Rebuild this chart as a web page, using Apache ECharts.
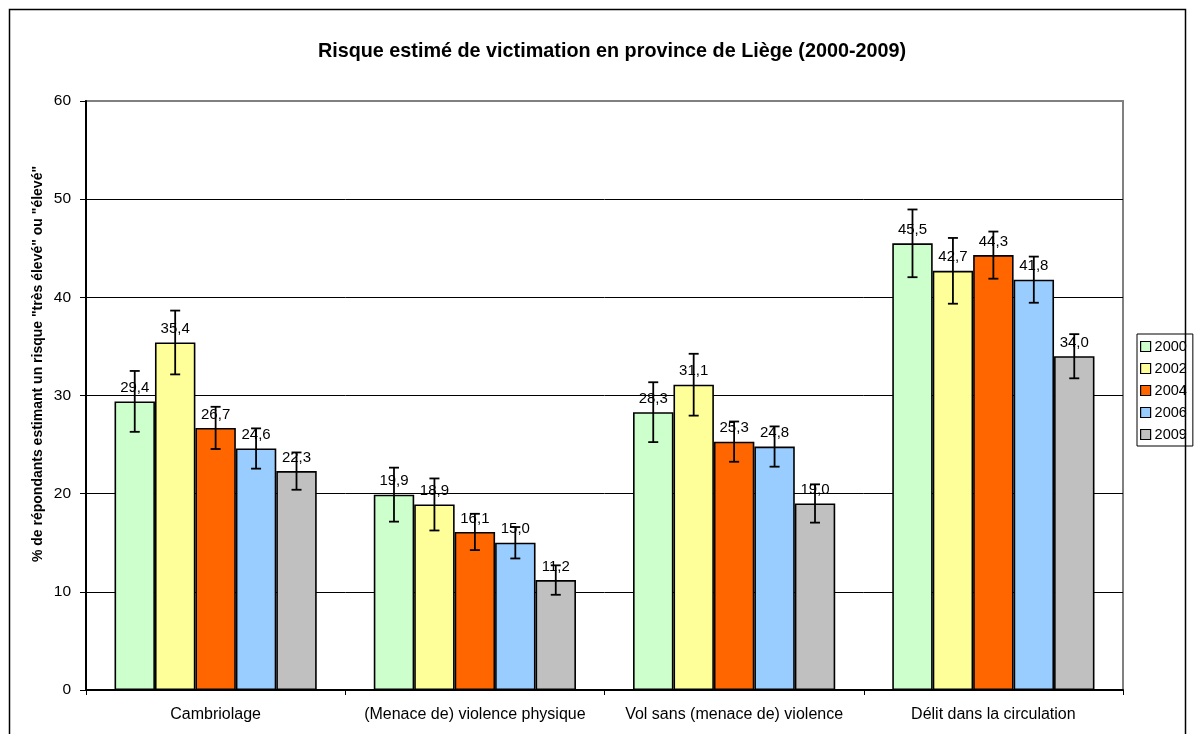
<!DOCTYPE html>
<html>
<head>
<meta charset="utf-8">
<script src="https://cdn.jsdelivr.net/npm/echarts@6/dist/echarts.min.js"></script>
<style>
  html, body { margin: 0; padding: 0; background: #fff; }
  #main { width: 1194px; height: 734px; }
</style>
</head>
<body>
<div id="main"></div>
<script>
var categories = ['Cambriolage', '(Menace de) violence physique', 'Vol sans (menace de) violence', 'Délit dans la circulation'];
var years = ['2000', '2002', '2004', '2006', '2009'];

// pourcentages
var v2000 = [29.4, 19.9, 28.3, 45.5];
var v2002 = [35.4, 18.9, 31.1, 42.7];
var v2004 = [26.7, 16.1, 25.3, 44.3];
var v2006 = [24.6, 15.0, 24.8, 41.8];
var v2009 = [22.3, 11.2, 19.0, 34.0];

// marges d'erreur (+/-)
var e2000 = [3.1, 2.75, 3.05, 3.45];
var e2002 = [3.25, 2.65, 3.15, 3.35];
var e2004 = [2.15, 1.85, 2.05, 2.4];
var e2006 = [2.05, 1.6, 2.05, 2.35];
var e2009 = [1.9, 1.5, 1.95, 2.25];

var yTicks = [0, 10, 20, 30, 40, 50, 60];

var values = [v2000, v2002, v2004, v2006, v2009];
var errors = [e2000, e2002, e2004, e2006, e2009];
var colors = ['#CCFFCC', '#FFFF99', '#FF6600', '#99CCFF', '#C0C0C0'];

var myChart = echarts.init(document.getElementById('main'));
var font = '"Liberation Sans", Arial, sans-serif';

function errRender(si) {
    return function (params, api) {
        var c = api.value(0), v = api.value(1), e = api.value(2);
        var catW = api.size([1, 0])[0];
        var bw = catW * 0.78 / 5;
        var x = api.coord([c, v])[0] + (si - 2) * bw;
        var top = api.coord([c, v + e])[1];
        var bot = api.coord([c, v - e])[1];
        var cap = 5;
        var st = { stroke: '#000', lineWidth: 1.8 };
        return {
            type: 'group',
            children: [
                { type: 'line', shape: { x1: x, y1: top, x2: x, y2: bot }, style: st },
                { type: 'line', shape: { x1: x - cap, y1: top, x2: x + cap, y2: top }, style: st },
                { type: 'line', shape: { x1: x - cap, y1: bot, x2: x + cap, y2: bot }, style: st }
            ]
        };
    };
}

var series = [];
years.forEach(function (y, i) {
    series.push({
        name: y,
        type: 'bar',
        data: values[i],
        barGap: '0%',
        barCategoryGap: '22%',
        itemStyle: { color: colors[i], borderColor: '#000', borderWidth: 1.6 },
        label: {
            show: true,
            position: 'top',
            distance: 6,
            color: '#000',
            fontFamily: font,
            fontSize: 15,
            formatter: function (p) { return p.value.toFixed(1).replace('.', ','); }
        },
        z: 2
    });
});
years.forEach(function (y, i) {
    series.push({
        name: 'err' + y,
        type: 'custom',
        renderItem: errRender(i),
        data: values[i].map(function (v, k) { return [k, v, errors[i][k]]; }),
        encode: { x: 0, y: 1 },
        z: 5,
        silent: true
    });
});

var option = {
    backgroundColor: '#fff',
    animation: false,
    title: {
        text: 'Risque estimé de victimation en province de Liège (2000-2009)',
        left: 607,
        textAlign: 'center',
        top: 37,
        textStyle: { fontFamily: font, fontSize: 19.8, fontWeight: 'bold', color: '#000' }
    },
    legend: {
        data: years,
        orient: 'vertical',
        left: 1137,
        top: 334,
        padding: [5, 6, 4, 3],
        itemGap: 7,
        itemWidth: 10,
        itemHeight: 10,
        borderColor: '#000',
        borderWidth: 1,
        borderRadius: 0,
        icon: 'rect',
        itemStyle: { borderColor: '#000', borderWidth: 1.2 },
        textStyle: { fontFamily: font, fontSize: 14.5, color: '#000', padding: [0, 0, 0, -1] }
    },
    grid: {
        left: 86,
        right: 71,
        top: 101,
        bottom: 44,
        show: true,
        borderColor: '#808080',
        borderWidth: 2,
        backgroundColor: 'transparent'
    },
    xAxis: {
        type: 'category',
        data: categories,
        axisLine: { lineStyle: { color: '#000', width: 2 } },
        axisTick: { show: true, length: 5, lineStyle: { color: '#000', width: 1 } },
        axisLabel: { color: '#000', fontFamily: font, fontSize: 16, margin: 17, interval: 0 }
    },
    yAxis: {
        type: 'value',
        min: yTicks[0],
        max: yTicks[yTicks.length - 1],
        interval: 10,
        axisLine: { show: true, lineStyle: { color: '#000', width: 2 } },
        axisTick: { show: true, length: 6, lineStyle: { color: '#000', width: 1 } },
        axisLabel: { color: '#000', fontFamily: font, fontSize: 15.5, margin: 15 },
        splitLine: { show: true, showMaxLine: false, lineStyle: { color: '#000', width: 1 } }
    },
    graphic: [
        {
            type: 'rect',
            shape: { x: 9.5, y: 9.5, width: 1176, height: 740 },
            style: { fill: 'none', stroke: '#000', lineWidth: 1.5 },
            silent: true
        },
        {
            type: 'text',
            x: 38,
            y: 364,
            rotation: Math.PI / 2,
            style: {
                text: '% de répondants estimant un risque "très élevé" ou "élevé"',
                align: 'center',
                verticalAlign: 'middle',
                fontFamily: font,
                fontSize: 14,
                fontWeight: 'bold',
                fill: '#000'
            }
        }
    ],
    series: series
};
myChart.setOption(option);
</script>
</body>
</html>
